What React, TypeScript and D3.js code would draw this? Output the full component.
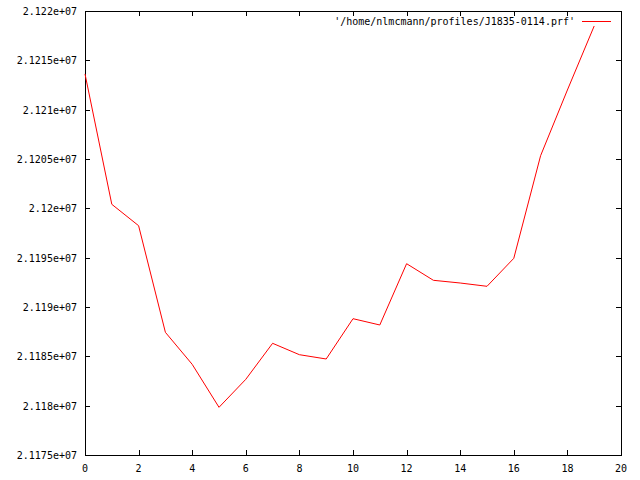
import React, { useEffect, useRef } from 'react';
import * as d3 from 'd3';

const xValues = [0, 1, 2, 3, 4, 5, 6, 7, 8, 9, 10, 11, 12, 13, 14, 15, 16, 17, 18, 19];
const yValues = [
  21213620, 21200409, 21198240, 21187432, 21184189, 21179834, 21182672, 21186321, 21185166, 21184730,
  21188814, 21188176, 21194389, 21192706, 21192432, 21192098, 21194936, 21205335, 21211993, 21218480,
];
const xTicks = [0, 2, 4, 6, 8, 10, 12, 14, 16, 18, 20];
const yTicks = [21175000, 21180000, 21185000, 21190000, 21195000, 21200000, 21205000, 21210000, 21215000, 21220000];
const yTickLabels = [
  '2.1175e+07', '2.118e+07', '2.1185e+07', '2.119e+07', '2.1195e+07',
  '2.12e+07', '2.1205e+07', '2.121e+07', '2.1215e+07', '2.122e+07',
];
const seriesName = "'/home/nlmcmann/profiles/J1835-0114.prf'";

const App = () => {
  const svgRef = useRef<SVGSVGElement>(null);
  const width = 640;
  const height = 480;
  const margin = { top: 11, right: 19, bottom: 25, left: 85 };

  useEffect(() => {
    const svg = d3.select(svgRef.current);
    svg.selectAll('*').remove();

    const innerWidth = width - margin.left - margin.right;
    const innerHeight = height - margin.top - margin.bottom;
    const font = '"DejaVu Sans Mono", "Liberation Mono", monospace';

    const x = d3.scaleLinear().domain([0, 20]).range([margin.left, margin.left + innerWidth]);
    const y = d3.scaleLinear().domain([21175000, 21220000]).range([margin.top + innerHeight, margin.top]);

    svg.append('rect').attr('width', width).attr('height', height).attr('fill', '#fff');

    const g = svg.append('g').attr('shape-rendering', 'crispEdges');
    const tickLen = 5;

    // ticks, mirrored on all sides
    xTicks.forEach(t => {
      const px = Math.round(x(t)) + 0.5;
      g.append('line').attr('x1', px).attr('x2', px)
        .attr('y1', y.range()[0]).attr('y2', y.range()[0] - tickLen).attr('stroke', '#000');
      g.append('line').attr('x1', px).attr('x2', px)
        .attr('y1', y.range()[1]).attr('y2', y.range()[1] + tickLen).attr('stroke', '#000');
      svg.append('text')
        .attr('x', x(t)).attr('y', y.range()[0] + 17)
        .attr('text-anchor', 'middle')
        .attr('font-family', font).attr('font-size', 10)
        .text(String(t));
    });

    yTicks.forEach((t, i) => {
      const py = Math.round(y(t)) + 0.5;
      g.append('line').attr('x1', x.range()[0]).attr('x2', x.range()[0] + tickLen)
        .attr('y1', py).attr('y2', py).attr('stroke', '#000');
      g.append('line').attr('x1', x.range()[1]).attr('x2', x.range()[1] - tickLen)
        .attr('y1', py).attr('y2', py).attr('stroke', '#000');
      svg.append('text')
        .attr('x', 77).attr('y', y(t) + 4)
        .attr('text-anchor', 'end')
        .attr('font-family', font).attr('font-size', 10)
        .text(yTickLabels[i]);
    });

    // border
    g.append('rect')
      .attr('x', margin.left + 0.5).attr('y', margin.top + 0.5)
      .attr('width', innerWidth).attr('height', innerHeight)
      .attr('fill', 'none').attr('stroke', '#000');

    // data line
    const line = d3.line<number>()
      .x((d, i) => x(xValues[i]))
      .y(d => y(d));

    svg.append('path')
      .datum(yValues)
      .attr('fill', 'none')
      .attr('stroke', '#ff0000')
      .attr('stroke-width', 1)
      .attr('d', line);

    // legend
    svg.append('text')
      .attr('x', 575).attr('y', 25)
      .attr('text-anchor', 'end')
      .attr('font-family', font).attr('font-size', 10)
      .text(seriesName);
    svg.append('line')
      .attr('x1', 582).attr('x2', 611)
      .attr('y1', 21.5).attr('y2', 21.5)
      .attr('stroke', '#ff0000')
      .attr('shape-rendering', 'crispEdges');
  }, []);

  return (
    <svg ref={svgRef} width={width} height={height}
      style={{ position: 'absolute', left: 0, top: 0, display: 'block' }} />
  );
};

export default App;
